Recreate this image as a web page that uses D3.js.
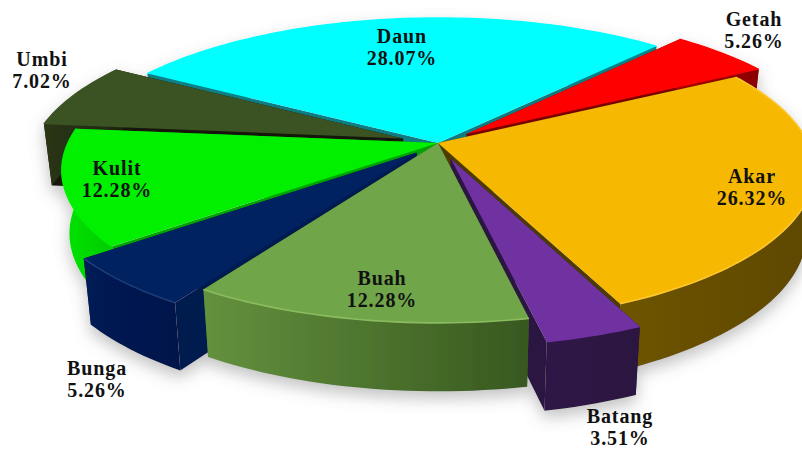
<!DOCTYPE html>
<html><head><meta charset="utf-8">
<style>html,body{margin:0;padding:0;background:#fff;overflow:hidden}svg{display:block}</style>
<script src="https://cdn.jsdelivr.net/npm/d3@7"></script></head>
<body><svg id="c" width="802" height="450"></svg>
<script>
const categories=["Getah","Akar","Batang","Buah","Bunga","Kulit","Umbi","Daun"];
const values=[5.26,26.32,3.51,12.28,5.26,12.28,7.02,28.07];
const explode=[0.10,0,0.11,0,0.085,0,0.10,0];
const topColors=["#ff0000","#f6b800","#7030a0","#70a548","#002060","#00f000","#3b5323","#00ffff"];
const wallStops=[["#a80000","#8a0000"],["#6e5400","#5e4800"],["#2e1646","#2c1540"],["#64913e","#37581f"],["#001a55","#00184c"],["#00e400","#00cc00"],["#2b3518","#1f2711"],["#0a7f85","#0a7f85"]];
const cutColors=["#7a0000","#4d3b00","#2a1340","#3f5f25","#001a50","#00a400","#14190a","#0b7c83"];
const edgeColors=["#ff0000","#fcc830","#7030a0","#8cbc60","#1c3d78","#00f000","#3b5323","#00ffff"];
const paintOrder=["Daun","Umbi","Getah","Kulit","Akar","Bunga","Batang:cut","Buah","Batang:face"];
const labelX=[754,752,620,382,97,117,42,402];
const labelY=[26,183,423,285,375,175,66,43];

const W=802,H=450,cx=438,cy=143,B=370,A=147.5,persp=0.18,depth=62,taper=0.02;
const sx=d3.scaleLinear().domain([0,1]).range([0,B]);
const sy=d3.scaleLinear().domain([0,1]).range([0,A]);
const project=(X,Y,z=0)=>{
  const w=1/(1-persp*Y);
  return [cx+sx(X)*w*(1-taper*z),cy+sy(Y)*w+z*depth*Math.sqrt(w)];
};
const start=42*Math.PI/180;
const arcs=d3.pie().sort(null).startAngle(start).endAngle(start+2*Math.PI)(values);
const svg=d3.select("#c");
const defs=svg.append("defs");
const f=defs.append("filter").attr("id","sh").attr("x","-10%").attr("y","-10%").attr("width","120%").attr("height","125%");
f.append("feDropShadow").attr("dx",0).attr("dy",7).attr("stdDeviation",8).attr("flood-color","#777").attr("flood-opacity",0.45);
const line=d3.line();
const g=svg.append("g").attr("filter","url(#sh)");
const slices=arcs.map((a,i)=>{
  const mid=(a.startAngle+a.endAngle)/2;
  const ox=explode[i]*Math.sin(mid),oy=-explode[i]*Math.cos(mid);
  const pt=(t,r,z)=>project(ox+r*Math.sin(t),oy-r*Math.cos(t),z);
  const n=Math.max(8,Math.ceil((a.endAngle-a.startAngle)*40));
  const ts=d3.range(n+1).map(k=>a.startAngle+(a.endAngle-a.startAngle)*k/n);
  return {i,name:categories[i],a,pt,ts};
});
paintOrder.forEach(entry=>{
  const [name,stage]=entry.split(":");
  const s=slices.find(d=>d.name===name),i=s.i,{a,pt,ts}=s;
  const sg=g.append("g");
  if(stage!=="face"){
    [a.startAngle,a.endAngle].forEach(t=>{
      sg.append("path").attr("fill",cutColors[i])
        .attr("d",line([pt(t,0,0),pt(t,1,0),pt(t,1,1),pt(t,0,1)])+"Z");
    });
  }
  if(stage==="cut")return;
  const top=ts.map(t=>pt(t,1,0)),bot=ts.map(t=>pt(t,1,1));
  const xs=top.map(p=>p[0]);
  const id="w"+i;
  const gr=defs.append("linearGradient").attr("id",id).attr("gradientUnits","userSpaceOnUse")
    .attr("x1",d3.min(xs)).attr("x2",d3.max(xs)).attr("y1",0).attr("y2",0);
  gr.append("stop").attr("offset",0).attr("stop-color",wallStops[i][0]);
  gr.append("stop").attr("offset",1).attr("stop-color",wallStops[i][1]);
  sg.append("path").attr("fill",`url(#${id})`).attr("d",line(top.concat(bot.slice().reverse()))+"Z");
  sg.append("path").attr("fill",topColors[i]).attr("d",line([pt(a.startAngle,0,0)].concat(top))+"Z");
  sg.append("path").attr("fill","none").attr("stroke",edgeColors[i]).attr("stroke-width",1.6).attr("d",line(top));
});
const lab=svg.append("g").attr("font-family","'Liberation Serif',serif").attr("font-weight","bold")
  .attr("font-size",20).attr("letter-spacing",0.9).attr("fill","#111").attr("text-anchor","middle");
categories.forEach((c,i)=>{
  lab.append("text").attr("x",labelX[i]).attr("y",labelY[i]).text(c);
  lab.append("text").attr("x",labelX[i]).attr("y",labelY[i]+22).text(values[i].toFixed(2)+"%");
});
</script></body></html>
